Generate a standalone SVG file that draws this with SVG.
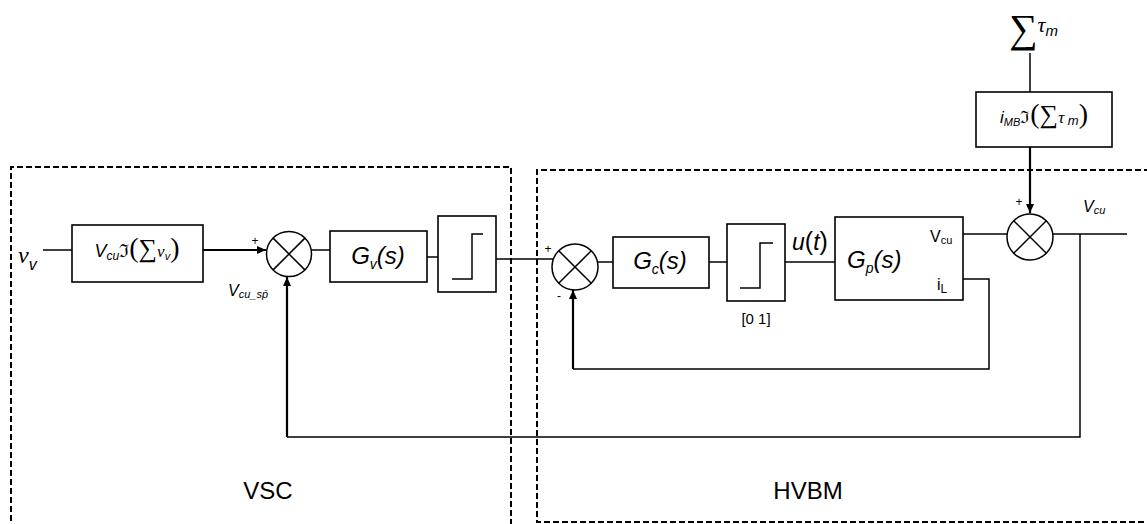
<svg xmlns="http://www.w3.org/2000/svg" width="1147" height="524" viewBox="0 0 1147 524">
<style>
.bx{fill:#fff;stroke:#000;stroke-width:1.6}
.ln{fill:none;stroke:#000;stroke-width:1.5}
.ar{fill:none;stroke:#000;stroke-width:2.2}
.dash{fill:none;stroke:#000;stroke-width:1.3;stroke-dasharray:6,3;shape-rendering:crispEdges}
.t{font-family:"Liberation Sans",Arial,sans-serif;fill:#000}
.i{font-style:italic}
.m{font-family:"Liberation Serif","DejaVu Serif",serif}
</style>
<defs>
<marker id="ah" markerUnits="userSpaceOnUse" markerWidth="10" markerHeight="9" refX="9" refY="4" orient="auto">
<path d="M0,0 L9,4 L0,8 z" fill="#000"/>
</marker>
</defs>
<rect width="1147" height="524" fill="#fff"/>
<g id="vsc-region">
<path class="dash" d="M11,530 V167 H511 V530"/>
<text class="t" x="268" y="499" font-size="24" text-anchor="middle">VSC</text>
</g>
<g id="hvbm-region">
<path class="dash" d="M1150,170 H537 V522 H1150"/>
<text class="t" x="808" y="499" font-size="24" text-anchor="middle">HVBM</text>
</g>
<g id="connectors">
<path class="ln" d="M43,250 H72"/>
<path class="ar" d="M203,250 H266" marker-end="url(#ah)"/>
<path class="ln" d="M311,250 H330"/>
<path class="ln" d="M427,257 H438"/>
<path class="ln" d="M496,259 H553"/>
<path class="ln" d="M597,262 H613"/>
<path class="ln" d="M709,262 H727"/>
<path class="ln" d="M785,262 H835"/>
<path class="ln" d="M963,234 H1007"/>
<path class="ln" d="M1053,234 H1127"/>
<path class="ln" d="M1030,53 V92"/>
<path class="ar" d="M1030,147 V213" marker-end="url(#ah)"/>
<path class="ln" d="M1080,234 V437 H287"/>
<path class="ar" d="M287,437 V277" marker-end="url(#ah)"/>
<path class="ln" d="M963,279 H989 V369 H573"/>
<path class="ar" d="M573,369 V290" marker-end="url(#ah)"/>
</g>
<g id="input-nu">
<text class="t" x="18" y="263" font-size="24"><tspan class="m i">ν</tspan><tspan class="i" font-size="16" dy="7">v</tspan></text>
</g>
<g id="block-vcu">
<rect class="bx" x="72" y="225" width="131" height="57"/>
<text class="t" x="137" y="257" font-size="18" text-anchor="middle"><tspan class="i">V</tspan><tspan class="i" font-size="12" dy="3">cu</tspan><tspan class="m" dy="-3" font-size="18">ℑ</tspan><tspan class="m" font-size="28" font-weight="100">(</tspan><tspan class="m" font-size="26">∑</tspan><tspan class="m i" font-size="17">ν</tspan><tspan class="i" font-size="11" dy="3">v</tspan><tspan class="m" font-size="28" dy="-3">)</tspan></text>
</g>
<g id="sum1">
<circle class="ln" cx="289" cy="254" r="22.5"/>
<path class="ln" d="M273.1,238.1 L304.9,269.9 M304.9,238.1 L273.1,269.9"/>
<text class="t" x="255" y="245" font-size="12" text-anchor="middle">+</text>
<text class="t" x="228" y="296" font-size="16"><tspan class="i">V</tspan><tspan class="i" font-size="11" dy="2">cu_sp̄</tspan></text>
</g>
<g id="block-gv">
<rect class="bx" x="330" y="231" width="97" height="51"/>
<text class="t i" x="378" y="264" font-size="24" text-anchor="middle">G<tspan font-size="14" dy="5">v</tspan><tspan dy="-5">(s)</tspan></text>
</g>
<g id="sat1">
<rect class="bx" x="438" y="216" width="58" height="76"/>
<path class="ln" d="M452,279 H472 V234 H483"/>
</g>
<g id="sum2">
<circle class="ln" cx="575" cy="267" r="23"/>
<path class="ln" d="M558.7,250.7 L591.3,283.3 M591.3,250.7 L558.7,283.3"/>
<text class="t" x="548" y="253" font-size="12" text-anchor="middle">+</text>
<text class="t" x="559" y="300" font-size="12" text-anchor="middle">-</text>
</g>
<g id="block-gc">
<rect class="bx" x="613" y="237" width="96" height="51"/>
<text class="t i" x="660" y="269" font-size="24" text-anchor="middle">G<tspan font-size="14" dy="5">c</tspan><tspan dy="-5">(s)</tspan></text>
</g>
<g id="sat2">
<rect class="bx" x="727" y="224" width="58" height="77"/>
<path class="ln" d="M740,288 H760 V243 H773"/>
<text class="t" x="756" y="324" font-size="15" text-anchor="middle">[0 1]</text>
</g>
<g id="label-ut">
<text class="t" x="792" y="250" font-size="23"><tspan class="i">u</tspan><tspan font-size="25">(</tspan><tspan class="i">t</tspan><tspan font-size="25">)</tspan></text>
</g>
<g id="block-gp">
<rect class="bx" x="835" y="217" width="128" height="83"/>
<text class="t i" x="847" y="268" font-size="24">G<tspan font-size="14" dy="5">p</tspan><tspan dy="-5">(s)</tspan></text>
<text class="t" x="930" y="242" font-size="16">V<tspan font-size="11" dy="2">cu</tspan></text>
<text class="t" x="937" y="290" font-size="16">i<tspan font-size="12" dy="3">L</tspan></text>
</g>
<g id="input-tau">
<text class="t" x="1009" y="42" font-size="40"><tspan class="m">∑</tspan><tspan class="m i" font-size="22" dy="-10">τ</tspan><tspan class="i" font-size="15" dy="4">m</tspan></text>
</g>
<g id="block-imb">
<rect class="bx" x="976" y="92" width="136" height="55"/>
<text class="t" x="1044" y="123" font-size="17" text-anchor="middle"><tspan class="i">i</tspan><tspan class="i" font-size="11" dy="3">MB</tspan><tspan class="m" dy="-3">ℑ</tspan><tspan class="m" font-size="28" font-weight="100">(</tspan><tspan class="m" font-size="26">∑</tspan><tspan class="m i" font-size="17">τ</tspan><tspan class="i" font-size="13" dy="2"> m</tspan><tspan class="m" font-size="28" dy="-2">)</tspan></text>
</g>
<g id="sum3">
<circle class="ln" cx="1030" cy="237" r="23"/>
<path class="ln" d="M1013.7,220.7 L1046.3,253.3 M1046.3,220.7 L1013.7,253.3"/>
<text class="t" x="1019" y="206" font-size="12" text-anchor="middle">+</text>
<text class="t i" x="1083" y="212" font-size="16">V<tspan font-size="11" dy="2">cu</tspan></text>
</g>
</svg>
